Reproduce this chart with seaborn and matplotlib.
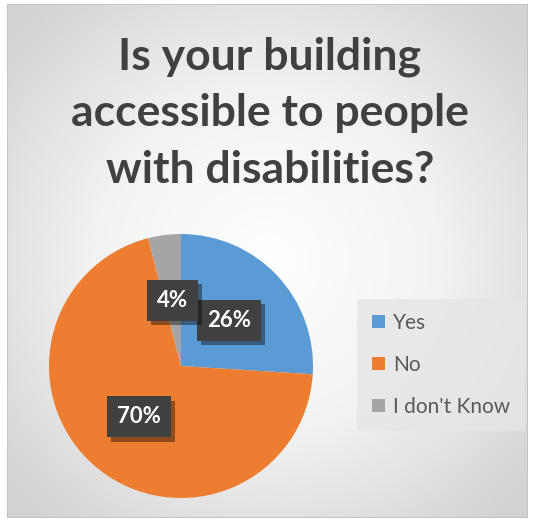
import numpy as np
import matplotlib.pyplot as plt
import matplotlib.patheffects as pe
from matplotlib.patches import Rectangle, Patch
import seaborn as sns

# data
labels = ['Yes', 'No', "I don't Know"]
values = [26, 70, 4]
title = "Is your building\naccessible to people\nwith disabilities?"

sns.set_style('white')
plt.rcParams['font.family'] = ['Lato', 'DejaVu Sans']
colors = ['#5B9BD5', '#ED7D31', '#A5A5A5']

W, H = 533, 525
fig = plt.figure(figsize=(W / 100, H / 100), dpi=100)
fig.patch.set_facecolor('white')

# background: radial grey gradient inside the chart frame
x0, y0, x1, y1 = 7, 4, 528, 518
bg = fig.add_axes([x0 / W, 1 - y1 / H, (x1 - x0) / W, (y1 - y0) / H])
yy, xx = np.mgrid[-1:1:300j, -1:1:300j]
r = np.clip(np.sqrt(xx**2 + yy**2) / 1.35, 0, 1)
bg.imshow(r, cmap=sns.blend_palette(['#FFFFFF', '#F2F2F2', '#D2D2D2'], as_cmap=True),
          extent=[0, 1, 0, 1], aspect='auto', vmin=0, vmax=1)
bg.add_patch(Rectangle((0, 0), 1, 1, fill=False, edgecolor='#BFBFBF', lw=1.2,
                       transform=bg.transAxes))
bg.set_axis_off()

fig.text(270 / W, 1 - 113 / H, title, ha='center', va='center', fontsize=32,
         fontweight='bold', color='#404040', linespacing=1.5)

# pie
cx, cy, rad = 181, 366, 132
ax = fig.add_axes([(cx - rad) / W, 1 - (cy + rad) / H, 2 * rad / W, 2 * rad / H])
wedges, texts, autotexts = ax.pie(values, colors=colors, startangle=90, counterclock=False,
                                  autopct='%d%%', pctdistance=0.5,
                                  wedgeprops=dict(linewidth=0))
for t in autotexts:
    t.set_color('white')
    t.set_fontsize(16)
    t.set_fontweight('bold')
    t.set_bbox(dict(boxstyle='square,pad=0.45', facecolor='#404040', edgecolor='none'))
    t.get_bbox_patch().set_path_effects([pe.withSimplePatchShadow(offset=(3, -3),
                                                                  shadow_rgbFace='black', alpha=0.4)])
ax.set_xlim(-1, 1)
ax.set_ylim(-1, 1)
ax.set_aspect('equal')
ax.set_axis_off()

# legend
handles = [Patch(facecolor=c, edgecolor='none') for c in colors]
leg = fig.legend(handles, labels, loc='center left', bbox_to_anchor=(347 / W, 1 - 365 / H),
                 frameon=True, fontsize=15, labelcolor='#595959', handlelength=0.6,
                 handleheight=0.6, handletextpad=0.4, labelspacing=1.05,
                 borderpad=0.7, fancybox=False)
leg.get_frame().set_facecolor('#E6E6E6')
leg.get_frame().set_edgecolor('none')
leg.get_frame().set_alpha(0.8)

plt.savefig('out.png', dpi=100, facecolor='white')
